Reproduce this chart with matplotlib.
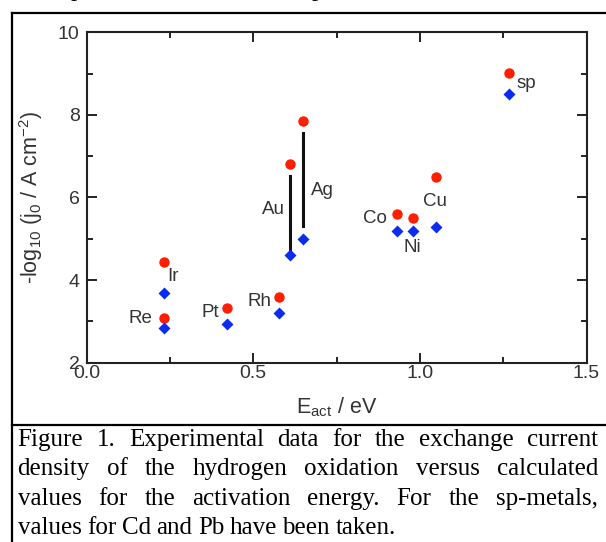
import matplotlib
matplotlib.use("Agg")
import matplotlib.pyplot as plt
from matplotlib.ticker import MultipleLocator
from matplotlib.lines import Line2D

plt.rcParams["font.family"] = ["Liberation Sans", "DejaVu Sans"]
plt.rcParams["mathtext.default"] = "regular"

# data
metals = ["Re", "Ir", "Pt", "Rh", "Au", "Ag", "Co", "Ni", "Cu", "sp"]
e_act = [0.233, 0.233, 0.421, 0.578, 0.611, 0.649, 0.931, 0.979, 1.049, 1.268]
exp_vals = [3.08, 4.44, 3.32, 3.58, 6.81, 7.85, 5.60, 5.51, 6.50, 9.01]
calc_vals = [2.85, 3.69, 2.94, 3.21, 4.61, 5.00, 5.20, 5.20, 5.29, 8.51]

# label anchors (x, y, ha)
label_pos = {
    "Re": (0.198, 3.07, "right"),
    "Ir": (0.243, 4.08, "left"),
    "Pt": (0.398, 3.22, "right"),
    "Rh": (0.556, 3.47, "right"),
    "Au": (0.594, 5.72, "right"),
    "Ag": (0.672, 6.17, "left"),
    "Co": (0.902, 5.50, "right"),
    "Ni": (0.977, 4.80, "center"),
    "Cu": (1.045, 5.90, "center"),
    "sp": (1.290, 8.77, "left"),
}
# vertical bars between points for Au and Ag
bars = {"Au": (4.76, 6.52), "Ag": (5.32, 7.56)}

caption = [
    "Figure 1. Experimental data for the exchange current",
    "density of the hydrogen oxidation versus calculated",
    "values for the activation energy. For the sp-metals,",
    "values for Cd and Pb have been taken.",
]

W, H = 606, 542
fig = plt.figure(figsize=(W / 100, H / 100), dpi=100)
ax = fig.add_axes([86.5 / W, 1 - 362.7 / H, 500 / W, 330.4 / H])

red = "#ff1f00"
blue = "#0a2cf0"

ax.plot(e_act, exp_vals, "o", color=red, ms=7.5, mec="none", zorder=3)
ax.plot(e_act, calc_vals, "D", color=blue, ms=6.5, mec="none", zorder=3)

for name, (lo, hi) in bars.items():
    i = metals.index(name)
    ax.plot([e_act[i], e_act[i]], [lo, hi], color="#111111", lw=2.2)

for name in metals:
    x, y, ha = label_pos[name]
    ax.text(x, y, name, ha=ha, va="center", fontsize=13.5, color="#333333")

ax.set_xlim(0, 1.5)
ax.set_ylim(2, 10)
ax.xaxis.set_major_locator(MultipleLocator(0.5))
ax.xaxis.set_minor_locator(MultipleLocator(0.25))
ax.yaxis.set_major_locator(MultipleLocator(2))
ax.yaxis.set_minor_locator(MultipleLocator(1))
ax.xaxis.set_major_formatter(plt.FuncFormatter(lambda v, p: f"{v:.1f}"))
ax.yaxis.set_major_formatter(plt.FuncFormatter(lambda v, p: f"{v:.0f}"))
ax.tick_params(which="both", direction="in", top=True, right=True,
               colors="#222222", labelcolor="#333333", labelsize=14, width=1.4)
ax.tick_params(axis="y", which="major", length=7, pad=5)
ax.tick_params(axis="x", which="major", length=7, pad=2)
ax.tick_params(which="minor", length=4)
for s in ax.spines.values():
    s.set_linewidth(1.5)
    s.set_color("#222222")

ax.set_xlabel("E$_{act}$ / eV", fontsize=15.5, color="#333333", labelpad=9)
ax.set_ylabel("-log$_{10}$ (j$_0$ / A cm$^{-2}$)", fontsize=15.5, color="#333333", labelpad=9)

# frame around the figure and caption
fk = dict(color="black", lw=1.6, transform=fig.transFigure, clip_on=False)
fig.add_artist(Line2D([12 / W, 12 / W], [0, 1 - 12.7 / H], **fk))
fig.add_artist(Line2D([12 / W, 1], [1 - 12.7 / H, 1 - 12.7 / H], **fk))
fig.add_artist(Line2D([12 / W, 1], [1 - 424.5 / H, 1 - 424.5 / H], **fk))

# descenders of the text line above, cut off by the top edge
for px in (77, 318):
    fig.text(px / W, 1 + 4 / H, "p", fontsize=18, family="Liberation Serif",
             ha="center", va="baseline")

# justified caption
renderer = fig.canvas.get_renderer()
x0, x1 = 17.5, 598
for k, line in enumerate(caption):
    yb = 1 - (446 + 29.3 * k) / H
    words = line.split(" ")
    texts = [fig.text(0, yb, w, fontsize=18, family="Liberation Serif", va="baseline")
             for w in words]
    widths = [t.get_window_extent(renderer).width for t in texts]
    if k < len(caption) - 1:
        gap = (x1 - x0 - sum(widths)) / (len(words) - 1)
    else:
        gap = 5.5
    cx = x0
    for t, w in zip(texts, widths):
        t.set_x(cx / W)
        cx += w + gap

fig.savefig("out.png", dpi=100)
